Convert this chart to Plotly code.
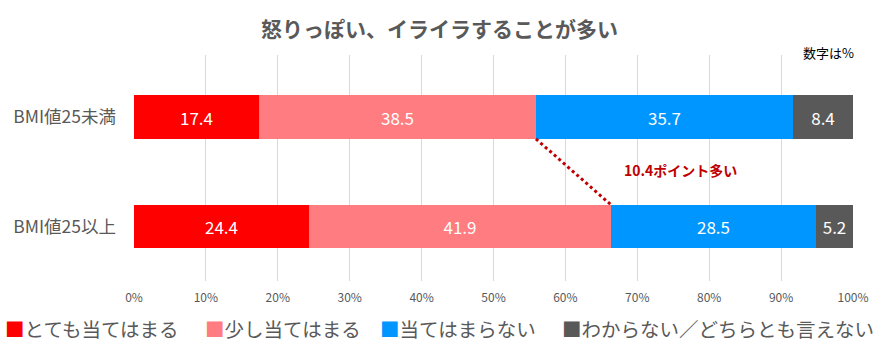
import plotly.graph_objects as go

categories = ["BMI値25未満", "BMI値25以上"]
series_names = ["とても当てはまる", "少し当てはまる", "当てはまらない", "わからない／どちらとも言えない"]
very_true = [17.4, 24.4]
somewhat_true = [38.5, 41.9]
not_true = [35.7, 28.5]
unknown = [8.4, 5.2]
colors = ["#FF0000", "#FF7C80", "#0096FF", "#595959"]
x_ticks = [0, 10, 20, 30, 40, 50, 60, 70, 80, 90, 100]
x_tick_labels = [f"{t}%" for t in x_ticks]
title_text = "怒りっぽい、イライラすることが多い"
unit_note = "数字は%"
diff_note = "10.4ポイント多い"

FONT = "Noto Sans CJK JP, Noto Sans, sans-serif"
BAR_W = 0.4
W, H = 884, 345
ML, MR, MT, MB = 0, 31, 55, 64
PW, PH = W - ML - MR, H - MT - MB


def px_x(px):
    return (px - ML) / PW


def px_y(py):
    return (H - MB - py) / PH


fig = go.Figure()
series = [very_true, somewhat_true, not_true, unknown]
for name, vals, col in zip(series_names, series, colors):
    fig.add_trace(go.Bar(
        name=name, y=list(range(len(categories))), x=vals, orientation="h",
        marker=dict(color=col, line=dict(width=0)), width=BAR_W,
        text=[f"{v:.1f}" for v in vals], textposition="inside",
        insidetextanchor="middle", textangle=0,
        textfont=dict(color="white", size=17, family=FONT),
        showlegend=False,
    ))

# dotted connector between cumulative "当てはまる" totals
x0 = very_true[0] + somewhat_true[0]
x1 = very_true[1] + somewhat_true[1]
fig.add_shape(type="line", xref="x", yref="y",
              x0=x0, y0=0 + BAR_W / 2, x1=x1, y1=1 - BAR_W / 2,
              line=dict(color="#C00000", width=3, dash="dot"))
fig.add_annotation(x=76, y=0.5, xref="x", yref="y", yanchor="middle", yshift=2,
                   text=f"<b>{diff_note}</b>",
                   showarrow=False, font=dict(color="#C00000", size=14, family=FONT))

fig.add_annotation(x=px_x(440), y=px_y(28), xref="paper", yref="paper",
                   xanchor="center", yanchor="middle",
                   text=f"<b>{title_text}</b>", showarrow=False,
                   font=dict(color="#595959", size=21, family=FONT))
fig.add_annotation(x=px_x(856), y=px_y(52), xref="paper", yref="paper",
                   text=unit_note, showarrow=False, xanchor="right", yanchor="middle",
                   font=dict(color="#000000", size=13, family=FONT))

# legend row
leg_x = [3, 203, 378, 560]
for name, col, lx in zip(series_names, colors, leg_x):
    fig.add_annotation(x=px_x(lx), y=px_y(328), xref="paper", yref="paper",
                       xanchor="left", yanchor="middle", showarrow=False,
                       text=f"<span style='color:{col}'>■</span>{name}",
                       font=dict(color="#595959", size=19.5, family=FONT))

fig.update_layout(
    width=W, height=H,
    margin=dict(l=ML, r=MR, t=MT, b=MB, autoexpand=False),
    barmode="stack", bargap=0,
    plot_bgcolor="white", paper_bgcolor="white",
    xaxis=dict(range=[0, 100], tickvals=x_ticks, ticktext=x_tick_labels,
               domain=[px_x(134), 1], automargin=False,
               showgrid=True, gridcolor="#D9D9D9", gridwidth=1, zeroline=False,
               showline=False, ticks="", ticklabelstandoff=8,
               tickfont=dict(size=12, color="#595959", family=FONT)),
    yaxis=dict(range=[1.498, -0.566], tickvals=list(range(len(categories))),
               ticktext=categories, showgrid=False, zeroline=False, showline=False,
               ticks="", ticklabelstandoff=17, automargin=False,
               tickfont=dict(size=17.5, color="#595959", family=FONT)),
)

fig.write_html("out.html")
